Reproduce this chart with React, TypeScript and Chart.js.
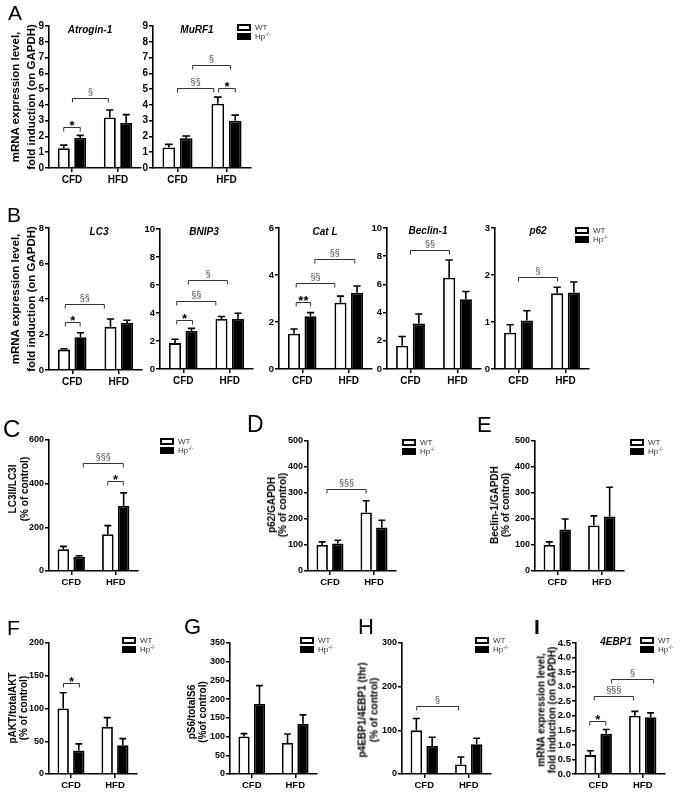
import React, { useEffect, useRef } from 'react';
import { Chart, registerables } from 'chart.js';

Chart.register(...registerables);

const FONT = '"Liberation Sans", Arial, Helvetica, sans-serif';

/* ---------- shared categories / series ---------- */
const categories = ['CFD', 'HFD'];
const seriesWT = 'WT';
const seriesHp = 'Hp-/-';

/* ---------- A: Atrogin-1 ---------- */
const atroginTicks = [0, 1, 2, 3, 4, 5, 6, 7, 8, 9];
const atroginWT = [1.25, 3.2];
const atroginWTErr = [0.2, 0.48];
const atroginHp = [1.9, 2.85];
const atroginHpErr = [0.17, 0.53];
const atroginBrackets = [
  { from: -0.18, to: 0.18, y: 2.6, label: '*' },
  { from: 0.01, to: 0.79, y: 4.45, label: '§' },
];

/* ---------- A: MuRF1 ---------- */
const murf1Ticks = [0, 1, 2, 3, 4, 5, 6, 7, 8, 9];
const murf1WT = [1.3, 4.07];
const murf1WTErr = [0.2, 0.42];
const murf1Hp = [1.88, 3.0];
const murf1HpErr = [0.15, 0.35];
const murf1Brackets = [
  { from: 0.0, to: 0.74, y: 5.05, label: '§§' },
  { from: 0.84, to: 1.18, y: 5.05, label: '*' },
  { from: 0.31, to: 1.08, y: 6.53, label: '§' },
];

/* ---------- B: LC3 ---------- */
const lc3Ticks = [0, 2, 4, 6, 8];
const lc3WT = [1.15, 2.42];
const lc3WTErr = [0.05, 0.45];
const lc3Hp = [1.85, 2.65];
const lc3HpErr = [0.25, 0.15];
const lc3Brackets = [
  { from: -0.15, to: 0.17, y: 2.72, label: '*' },
  { from: -0.15, to: 0.69, y: 3.72, label: '§§' },
];

/* ---------- B: BNIP3 ---------- */
const bnip3Ticks = [0, 2, 4, 6, 8, 10];
const bnip3WT = [1.85, 3.58];
const bnip3WTErr = [0.28, 0.17];
const bnip3Hp = [2.72, 3.58];
const bnip3HpErr = [0.18, 0.4];
const bnip3Brackets = [
  { from: -0.14, to: 0.2, y: 3.52, label: '*' },
  { from: -0.14, to: 0.7, y: 4.84, label: '§§' },
  { from: 0.11, to: 0.95, y: 6.33, label: '§' },
];

/* ---------- B: Cat L ---------- */
const catlTicks = [0, 2, 4, 6];
const catlWT = [1.5, 2.82];
const catlWTErr = [0.2, 0.28];
const catlHp = [2.25, 3.25];
const catlHpErr = [0.15, 0.28];
const catlBrackets = [
  { from: -0.13, to: 0.18, y: 2.87, label: '**' },
  { from: -0.13, to: 0.7, y: 3.65, label: '§§' },
  { from: 0.27, to: 1.13, y: 4.67, label: '§§' },
];

/* ---------- B: Beclin-1 ---------- */
const beclinTicks = [0, 2, 4, 6, 8, 10];
const beclinWT = [1.65, 6.48];
const beclinWTErr = [0.65, 1.25];
const beclinHp = [3.22, 4.95];
const beclinHpErr = [0.68, 0.55];
const beclinBrackets = [{ from: 0.0, to: 0.83, y: 8.44, label: '§§' }];

/* ---------- B: p62 ---------- */
const p62Ticks = [0, 1, 2, 3];
const p62WT = [0.77, 1.61];
const p62WTErr = [0.17, 0.13];
const p62Hp = [1.03, 1.63];
const p62HpErr = [0.21, 0.22];
const p62Brackets = [{ from: 0.0, to: 0.83, y: 1.95, label: '§' }];

/* ---------- C: LC3II/LC3I ---------- */
const lc3ratioTicks = [0, 200, 400, 600];
const lc3ratioWT = [100, 168];
const lc3ratioWTErr = [13, 40];
const lc3ratioHp = [65, 298];
const lc3ratioHpErr = [5, 60];
const lc3ratioBrackets = [
  { from: 0.27, to: 1.17, y: 495, label: '§§§' },
  { from: 0.82, to: 1.17, y: 413, label: '*' },
];

/* ---------- D: p62/GAPDH ---------- */
const p62gTicks = [0, 100, 200, 300, 400, 500];
const p62gWT = [100, 225];
const p62gWTErr = [12, 45];
const p62gHp = [106, 167];
const p62gHpErr = [12, 28];
const p62gBrackets = [{ from: -0.07, to: 0.82, y: 315, label: '§§§' }];

/* ---------- E: Beclin-1/GAPDH ---------- */
const beclingTicks = [0, 100, 200, 300, 400, 500];
const beclingWT = [100, 175];
const beclingWTErr = [12, 37];
const beclingHp = [160, 210];
const beclingHpErr = [40, 112];
const beclingBrackets: any[] = [];

/* ---------- F: pAKT/totalAKT ---------- */
const paktTicks = [0, 50, 100, 150, 200];
const paktWT = [100, 72];
const paktWTErr = [24, 14];
const paktHp = [36, 44];
const paktHpErr = [10, 10];
const paktBrackets = [{ from: -0.17, to: 0.19, y: 139, label: '*' }];

/* ---------- G: pS6/totalS6 ---------- */
const ps6Ticks = [0, 50, 100, 150, 200, 250, 300, 350];
const ps6WT = [100, 83];
const ps6WTErr = [8, 24];
const ps6Hp = [187, 134];
const ps6HpErr = [49, 24];
const ps6Brackets: any[] = [];

/* ---------- H: p4EBP1/4EBP1 ---------- */
const p4ebpTicks = [0, 100, 200, 300];
const p4ebpWT = [100, 22];
const p4ebpWTErr = [27, 17];
const p4ebpHp = [64, 68];
const p4ebpHpErr = [20, 14];
const p4ebpBrackets = [{ from: -0.17, to: 0.77, y: 155, label: '§' }];

/* ---------- I: 4EBP1 mRNA ---------- */
const ebp1Ticks = [0, 0.5, 1, 1.5, 2, 2.5, 3, 3.5, 4, 4.5];
const ebp1WT = [0.65, 2.0];
const ebp1WTErr = [0.15, 0.15];
const ebp1Hp = [1.38, 1.95];
const ebp1HpErr = [0.15, 0.15];
const ebp1Brackets = [
  { from: -0.19, to: 0.17, y: 1.83, label: '*' },
  { from: -0.09, to: 0.79, y: 2.69, label: '§§§' },
  { from: 0.3, to: 1.24, y: 3.26, label: '§' },
];

/* ---------- panel layout (plot-area pixels) ---------- */
const panelSpecs = [
  { id: 'atrogin', ticks: atroginTicks, wt: atroginWT, wtErr: atroginWTErr, hp: atroginHp, hpErr: atroginHpErr, brackets: atroginBrackets, dec: 0, box: { x0: 49, x1: 141, yTop: 26, yBot: 168, tick: 10, cat: 10 } },
  { id: 'murf1', ticks: murf1Ticks, wt: murf1WT, wtErr: murf1WTErr, hp: murf1Hp, hpErr: murf1HpErr, brackets: murf1Brackets, dec: 0, box: { x0: 153, x1: 251, yTop: 26, yBot: 168, tick: 10, cat: 10 } },
  { id: 'lc3', ticks: lc3Ticks, wt: lc3WT, wtErr: lc3WTErr, hp: lc3Hp, hpErr: lc3HpErr, brackets: lc3Brackets, dec: 0, box: { x0: 49, x1: 142, yTop: 228, yBot: 370, tick: 9.5, cat: 10 } },
  { id: 'bnip3', ticks: bnip3Ticks, wt: bnip3WT, wtErr: bnip3WTErr, hp: bnip3Hp, hpErr: bnip3HpErr, brackets: bnip3Brackets, dec: 0, box: { x0: 160, x1: 253, yTop: 229, yBot: 369, tick: 9.5, cat: 10 } },
  { id: 'catl', ticks: catlTicks, wt: catlWT, wtErr: catlWTErr, hp: catlHp, hpErr: catlHpErr, brackets: catlBrackets, dec: 0, box: { x0: 279, x1: 372, yTop: 228, yBot: 369, tick: 9.5, cat: 10 } },
  { id: 'beclin', ticks: beclinTicks, wt: beclinWT, wtErr: beclinWTErr, hp: beclinHp, hpErr: beclinHpErr, brackets: beclinBrackets, dec: 0, box: { x0: 387, x1: 481, yTop: 228, yBot: 369, tick: 9.5, cat: 10 } },
  { id: 'p62', ticks: p62Ticks, wt: p62WT, wtErr: p62WTErr, hp: p62Hp, hpErr: p62HpErr, brackets: p62Brackets, dec: 0, box: { x0: 495, x1: 589, yTop: 228, yBot: 369, tick: 9.5, cat: 10 } },
  { id: 'lc3ratio', ticks: lc3ratioTicks, wt: lc3ratioWT, wtErr: lc3ratioWTErr, hp: lc3ratioHp, hpErr: lc3ratioHpErr, brackets: lc3ratioBrackets, dec: 0, box: { x0: 49, x1: 138, yTop: 440, yBot: 571, tick: 9, cat: 9.5 } },
  { id: 'p62g', ticks: p62gTicks, wt: p62gWT, wtErr: p62gWTErr, hp: p62gHp, hpErr: p62gHpErr, brackets: p62gBrackets, dec: 0, box: { x0: 308, x1: 396, yTop: 441, yBot: 571, tick: 9, cat: 9.5 } },
  { id: 'beclinGapdh', ticks: beclingTicks, wt: beclingWT, wtErr: beclingWTErr, hp: beclingHp, hpErr: beclingHpErr, brackets: beclingBrackets, dec: 0, box: { x0: 535, x1: 624, yTop: 441, yBot: 571, tick: 9, cat: 9.5 } },
  { id: 'pakt', ticks: paktTicks, wt: paktWT, wtErr: paktWTErr, hp: paktHp, hpErr: paktHpErr, brackets: paktBrackets, dec: 0, box: { x0: 49, x1: 137, yTop: 643, yBot: 774, tick: 9, cat: 9.5 } },
  { id: 'ps6', ticks: ps6Ticks, wt: ps6WT, wtErr: ps6WTErr, hp: ps6Hp, hpErr: ps6HpErr, brackets: ps6Brackets, dec: 0, box: { x0: 230, x1: 317, yTop: 643, yBot: 774, tick: 9, cat: 9.5 } },
  { id: 'p4ebp', ticks: p4ebpTicks, wt: p4ebpWT, wtErr: p4ebpWTErr, hp: p4ebpHp, hpErr: p4ebpHpErr, brackets: p4ebpBrackets, dec: 0, box: { x0: 402, x1: 491, yTop: 643, yBot: 774, tick: 9, cat: 9.5 } },
  { id: 'ebp1', ticks: ebp1Ticks, wt: ebp1WT, wtErr: ebp1WTErr, hp: ebp1Hp, hpErr: ebp1HpErr, brackets: ebp1Brackets, dec: 1, box: { x0: 576, x1: 665, yTop: 643, yBot: 774, tick: 9.5, cat: 9.5 } },
];

/* ---------- text overlays (layout only) ---------- */
const panelLetters = [
  { t: 'A', x: 8, base: 20, fs: 21, w: 'normal' },
  { t: 'B', x: 7, base: 222, fs: 21, w: 'normal' },
  { t: 'C', x: 3, base: 437, fs: 24, w: 'normal' },
  { t: 'D', x: 247, base: 432, fs: 23, w: 'normal' },
  { t: 'E', x: 477, base: 433, fs: 22, w: 'normal' },
  { t: 'F', x: 7, base: 635, fs: 21, w: 'normal' },
  { t: 'G', x: 184, base: 635, fs: 22, w: 'normal' },
  { t: 'H', x: 358, base: 635, fs: 22, w: 'normal' },
  { t: 'I', x: 534, base: 634, fs: 21, w: 'bold' },
];

const geneTitles = [
  { t: 'Atrogin-1', cx: 90, cy: 30 },
  { t: 'MuRF1', cx: 197, cy: 30 },
  { t: 'LC3', cx: 99, cy: 232 },
  { t: 'BNIP3', cx: 204, cy: 232 },
  { t: 'Cat L', cx: 325, cy: 232 },
  { t: 'Beclin-1', cx: 428, cy: 231 },
  { t: 'p62', cx: 538, cy: 231 },
  { t: '4EBP1', cx: 616, cy: 642 },
];

const yTitles = [
  { lines: ['mRNA expression level,', 'fold induction (on GAPDH)'], cx: 23, cy: 97, fs: 11.5, lh: 16 },
  { lines: ['mRNA expression level,', 'fold induction (on GAPDH)'], cx: 23, cy: 299, fs: 11.5, lh: 16 },
  { lines: ['LC3II/LC3I', '(% of control)'], cx: 19, cy: 489, fs: 10, lh: 12 },
  { lines: ['p62/GAPDH', '(% of control)'], cx: 277, cy: 505, fs: 10, lh: 11 },
  { lines: ['Beclin-1/GAPDH', '(% of control)'], cx: 500, cy: 505, fs: 10, lh: 11 },
  { lines: ['pAKT/totalAKT', '(% of control)'], cx: 17.5, cy: 708, fs: 10, lh: 11 },
  { lines: ['pS6/totalS6', '(%of control)'], cx: 196.5, cy: 712, fs: 10, lh: 10.5 },
  { lines: ['p4EBP1/4EBP1 (thr)', '(% of control)'], cx: 367.5, cy: 710, fs: 10, lh: 11.5 },
  { lines: ['mRNA expression level,', 'fold induction (on GAPDH)'], cx: 546.5, cy: 710, fs: 10, lh: 10.5 },
];

const legendSpots = [
  { x: 237, y: 24 },
  { x: 575, y: 227 },
  { x: 160, y: 438 },
  { x: 402, y: 439 },
  { x: 630, y: 439 },
  { x: 122, y: 637 },
  { x: 300, y: 637 },
  { x: 475, y: 637 },
  { x: 640, y: 637 },
];

/* ---------- plugins ---------- */
const errorBarPlugin = {
  id: 'errorBars',
  afterDatasetsDraw(chart: any) {
    const ctx = chart.ctx;
    const yScale = chart.scales.y;
    chart.data.datasets.forEach((ds: any, di: number) => {
      const meta = chart.getDatasetMeta(di);
      meta.data.forEach((bar: any, i: number) => {
        const v = ds.data[i];
        const e = ds.errorBars[i];
        const top = yScale.getPixelForValue(v + e);
        const cap = bar.width * 0.3;
        ctx.save();
        ctx.strokeStyle = '#000';
        ctx.lineWidth = 1.6;
        ctx.beginPath();
        ctx.moveTo(bar.x, bar.y);
        ctx.lineTo(bar.x, top);
        ctx.moveTo(bar.x - cap, top);
        ctx.lineTo(bar.x + cap, top);
        ctx.stroke();
        ctx.restore();
      });
    });
  },
};

function makeBracketPlugin(brackets: any[]) {
  return {
    id: 'sigBrackets',
    afterDatasetsDraw(chart: any) {
      const ctx = chart.ctx;
      const xs = chart.scales.x;
      const ys = chart.scales.y;
      brackets.forEach((b) => {
        const xa = xs.getPixelForValue(b.from);
        const xb = xs.getPixelForValue(b.to);
        const yy = Math.round(ys.getPixelForValue(b.y)) + 0.5;
        ctx.save();
        ctx.strokeStyle = '#333';
        ctx.lineWidth = 1;
        ctx.beginPath();
        ctx.moveTo(xa, yy + 4);
        ctx.lineTo(xa, yy);
        ctx.lineTo(xb, yy);
        ctx.lineTo(xb, yy + 4);
        ctx.stroke();
        ctx.textAlign = 'center';
        ctx.textBaseline = 'alphabetic';
        const mid = (xa + xb) / 2;
        if (b.label.indexOf('*') >= 0) {
          ctx.fillStyle = '#000';
          ctx.font = `bold 13px ${FONT}`;
          ctx.fillText(b.label, mid, yy + 2.5);
        } else {
          ctx.fillStyle = '#444';
          ctx.font = `9px ${FONT}`;
          ctx.fillText(b.label, mid, yy - 4);
        }
        ctx.restore();
      });
    },
  };
}

/* ---------- components ---------- */
function BarPanel({ p }: { p: any }) {
  const ref = useRef<HTMLCanvasElement | null>(null);
  const padL = 40;
  const padT = 16;
  const padR = 6;
  const padB = 22;
  const b = p.box;
  const left = b.x0 - padL;
  const top = b.yTop - padT;
  const width = b.x1 - b.x0 + padL + padR;
  const height = b.yBot - b.yTop + padT + padB;

  useEffect(() => {
    if (!ref.current) return;
    const tickFont = { family: FONT, size: b.tick, weight: 'bold' as const };
    const catFont = { family: FONT, size: b.cat, weight: 'bold' as const };
    const chart = new Chart(ref.current, {
      type: 'bar',
      data: {
        labels: categories,
        datasets: [
          { label: seriesWT, data: p.wt, errorBars: p.wtErr, backgroundColor: '#ffffff', borderColor: '#000000', borderWidth: 1.8 } as any,
          { label: seriesHp, data: p.hp, errorBars: p.hpErr, backgroundColor: '#000000', borderColor: '#000000', borderWidth: 1.8 } as any,
        ],
      },
      options: {
        responsive: false,
        animation: false,
        devicePixelRatio: 1,
        layout: { padding: { top: padT, right: padR, left: 0, bottom: 0 } },
        datasets: { bar: { categoryPercentage: 0.71, barPercentage: 0.73 } },
        plugins: { legend: { display: false }, tooltip: { enabled: false }, title: { display: false } },
        scales: {
          x: {
            type: 'category',
            offset: true,
            grid: { offset: false, drawOnChartArea: false, drawTicks: true, tickLength: 4, color: '#000', lineWidth: 1.5 },
            border: { display: true, color: '#000', width: 1.6 },
            ticks: { color: '#000', font: catFont, padding: 2, maxRotation: 0, autoSkip: false },
            afterFit: (s: any) => { s.height = padB; },
          },
          y: {
            type: 'linear',
            min: 0,
            max: p.ticks[p.ticks.length - 1],
            afterBuildTicks: (s: any) => { s.ticks = p.ticks.map((v: number) => ({ value: v })); },
            ticks: { color: '#000', font: tickFont, padding: 1, autoSkip: false, callback: (v: any) => Number(v).toFixed(p.dec) },
            grid: { drawOnChartArea: false, drawTicks: true, tickLength: 4, color: '#000', lineWidth: 1.5 },
            border: { display: true, color: '#000', width: 1.6 },
            afterFit: (s: any) => { s.width = padL; },
          },
        },
      } as any,
      plugins: [errorBarPlugin, makeBracketPlugin(p.brackets)],
    });
    return () => chart.destroy();
  }, []);

  return (
    <canvas
      ref={ref}
      width={width}
      height={height}
      style={{ position: 'absolute', left, top, width, height }}
    />
  );
}

function Letter({ l }: { l: any }) {
  return (
    <div style={{ position: 'absolute', left: l.x, top: l.base - 0.8465 * l.fs, fontFamily: FONT, fontSize: l.fs, lineHeight: `${l.fs}px`, fontWeight: l.w, color: '#000' }}>
      {l.t}
    </div>
  );
}

function GeneTitle({ g }: { g: any }) {
  return (
    <div style={{ position: 'absolute', left: g.cx, top: g.cy, transform: 'translate(-50%,-50%)', fontFamily: FONT, fontSize: 10, fontWeight: 'bold', fontStyle: 'italic', whiteSpace: 'nowrap', lineHeight: '12px', color: '#000' }}>
      {g.t}
    </div>
  );
}

function YTitle({ y }: { y: any }) {
  return (
    <div style={{ position: 'absolute', left: y.cx, top: y.cy, transform: 'translate(-50%,-50%) rotate(-90deg)', fontFamily: FONT, fontWeight: 'bold', fontSize: y.fs, lineHeight: `${y.lh}px`, textAlign: 'center', whiteSpace: 'nowrap', color: '#000' }}>
      {y.lines.map((ln: string, i: number) => (<div key={i}>{ln}</div>))}
    </div>
  );
}

function Legend({ s }: { s: any }) {
  return (
    <div style={{ position: 'absolute', left: s.x, top: s.y, fontFamily: FONT, fontSize: 8, color: '#333' }}>
      <div style={{ position: 'absolute', left: 0, top: 0, width: 10, height: 3, border: '2px solid #000', background: '#fff' }} />
      <div style={{ position: 'absolute', left: 18, top: -1.5, lineHeight: '10px', whiteSpace: 'nowrap' }}>{seriesWT}</div>
      <div style={{ position: 'absolute', left: 0, top: 9, width: 14, height: 7, background: '#000' }} />
      <div style={{ position: 'absolute', left: 18, top: 7.5, lineHeight: '10px', whiteSpace: 'nowrap' }}>
        Hp<span style={{ fontSize: 5.5, position: 'relative', top: -3 }}>-/-</span>
      </div>
    </div>
  );
}

export default function App() {
  return (
    <div style={{ position: 'fixed', left: 0, top: 0, width: 687, height: 792, background: '#fff', overflow: 'hidden' }}>
      {panelSpecs.map((p) => (<BarPanel key={p.id} p={p} />))}
      {panelLetters.map((l) => (<Letter key={l.t} l={l} />))}
      {geneTitles.map((g) => (<GeneTitle key={g.t} g={g} />))}
      {yTitles.map((y, i) => (<YTitle key={i} y={y} />))}
      {legendSpots.map((s, i) => (<Legend key={i} s={s} />))}
    </div>
  );
}
